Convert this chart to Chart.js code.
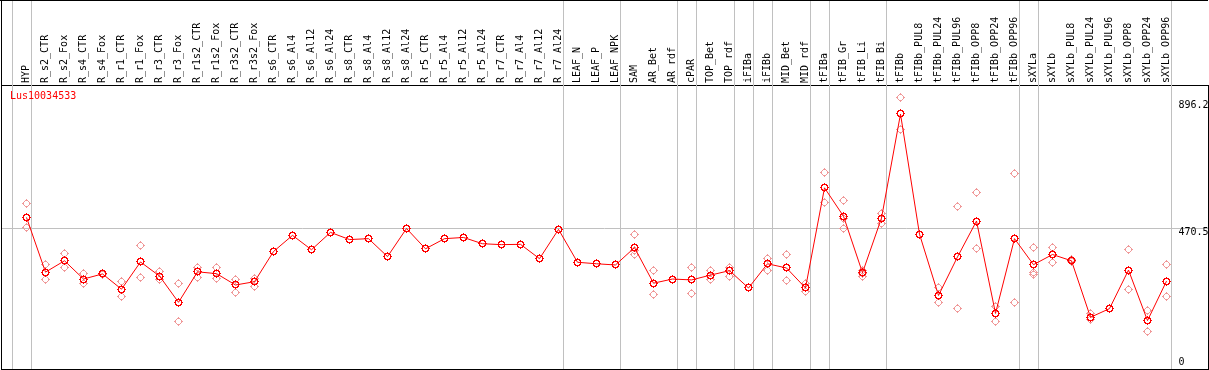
<!DOCTYPE html>
<html>
<head>
<meta charset="utf-8">
<script src="https://cdn.jsdelivr.net/npm/chart.js@4"></script>
<style>
  html, body { margin: 0; padding: 0; background: #fff; }
  #wrap { width: 1209px; height: 370px; }
</style>
</head>
<body>
<div id="wrap"><canvas id="chart" width="1209" height="370"></canvas></div>
<script>
const geneName = "Lus10034533";

const categories = [
  "HYP", "R_s2_CTR", "R_s2_Fox", "R_s4_CTR", "R_s4_Fox", "R_r1_CTR", "R_r1_Fox",
  "R_r3_CTR", "R_r3_Fox", "R_r1s2_CTR", "R_r1s2_Fox", "R_r3s2_CTR", "R_r3s2_Fox",
  "R_s6_CTR", "R_s6_Al4", "R_s6_Al12", "R_s6_Al24", "R_s8_CTR", "R_s8_Al4", "R_s8_Al12",
  "R_s8_Al24", "R_r5_CTR", "R_r5_Al4", "R_r5_Al12", "R_r5_Al24", "R_r7_CTR", "R_r7_Al4",
  "R_r7_Al12", "R_r7_Al24", "LEAF_N", "LEAF_P", "LEAF_NPK", "SAM", "AR_Bet", "AR_rdf",
  "cPAR", "TOP_Bet", "TOP_rdf", "iFIBa", "iFIBb", "MID_Bet", "MID_rdf", "tFIBa",
  "tFIB_Gr", "tFIB_Li", "tFIB_Bi", "tFIBb", "tFIBb_PUL8", "tFIBb_PUL24", "tFIBb_PUL96",
  "tFIBb_OPP8", "tFIBb_OPP24", "tFIBb_OPP96", "sXYLa", "sXYLb", "sXYLb_PUL8",
  "sXYLb_PUL24", "sXYLb_PUL96", "sXYLb_OPP8", "sXYLb_OPP24", "sXYLb_OPP96"
];

// mean expression per sample (the joined red line)
const means = [
  507, 324, 362, 301, 318, 267, 358, 311, 223, 325, 319, 281, 292,
  393, 447, 399, 457, 433, 436, 376, 470, 402, 436, 440, 419, 416, 417, 369, 467,
  357, 352, 348, 406, 287, 301, 298, 314, 329, 271, 352, 338, 271,
  606, 511, 322, 505, 853, 451, 246, 375, 495, 186, 436,
  349, 383, 362, 173, 202, 331, 162, 294
];

// replicates (pale circles); null where no replicate shows
const repHigh = [
  555, 349, 387, 319, 320, 294, 413, 325, 287, 340, 338, 301, 303,
  null, null, null, null, null, null, null, null, null, null, null, null, null, null, null, null,
  null, null, null, 451, 329, null, 339, 328, 341, null, 371, 382, 286,
  657, 563, 331, 521, 908, null, 272, 545, 589, 210, 653,
  407, 407, 367, 186, null, 399, 197, 348
];
const repLow = [
  472, 298, 339, 286, 316, 242, 306, 301, 158, 306, 303, 255, 275,
  null, null, null, null, null, null, null, null, null, null, null, null, null, null, null, null,
  null, null, null, 382, 250, null, 253, 301, 310, null, 330, 296, 260,
  558, 470, 309, 487, 800, null, 223, 201, 402, 159, 224,
  323, 356, 358, 164, null, 265, 125, 243
];
const repExtra = [
  null, null, null, null, null, null, null, null, null, null, null, null, null,
  null, null, null, null, null, null, null, null, null, null, null, null, null, null, null, null,
  null, null, null, 398, null, null, null, null, null, null, null, null, null,
  null, 504, 320, null, null, null, null, null, null, null, null,
  315, null, null, null, null, null, null, null
];

const yTicks = [0, 470.5, 896.2];
const yGridValues = [470.5];
const yMax = 950;
// index of the last sample in each group (-1 = before the first one)
const groupEnds = [-1, 0, 28, 31, 34, 35, 37, 38, 39, 41, 42, 45, 52, 53, 60];

const monoFont = "'DejaVu Sans Mono', 'Liberation Mono', monospace";

// little pixel rings with tick stubs, like the original bitmap markers
const thinRing = [
  "....#....",
  "...###...",
  "..#...#..",
  ".#.....#.",
  "##.....##",
  ".#.....#.",
  "..#...#..",
  "...###...",
  "....#....",
];
const boldRing = [
  "....#....",
  "..#####..",
  ".##...##.",
  ".#.....#.",
  "##.....##",
  ".#.....#.",
  ".##...##.",
  "..#####..",
  "....#....",
];

function makeMarker(pattern, color) {
  const c = document.createElement("canvas");
  c.width = pattern[0].length;
  c.height = pattern.length;
  const g = c.getContext("2d");
  g.fillStyle = color;
  pattern.forEach((row, y) => {
    [...row].forEach((ch, x) => { if (ch === "#") g.fillRect(x, y, 1, 1); });
  });
  return c;
}

const meanMarker = makeMarker(boldRing, "#ff0000");
const repMarker = makeMarker(thinRing, "#f09a9a");

const toPoints = arr => arr.map((v, i) => ({ x: i, y: v })).filter(p => p.y !== null);

const decor = {
  id: "decor",
  beforeDatasetsDraw(chart) {
    const { ctx, chartArea, scales } = chart;
    ctx.imageSmoothingEnabled = false;
    ctx.save();
    ctx.strokeStyle = "#c0c0c0";
    ctx.lineWidth = 1;
    for (const g of groupEnds) {
      const x = Math.round(scales.x.getPixelForValue(g + 0.23)) + 0.5;
      ctx.beginPath();
      ctx.moveTo(x, 0);
      ctx.lineTo(x, chartArea.bottom);
      ctx.stroke();
    }
    ctx.restore();
  },
  afterDraw(chart) {
    const { ctx, chartArea, scales } = chart;
    ctx.save();
    ctx.strokeStyle = "#000";
    ctx.lineWidth = 1;
    ctx.beginPath();
    ctx.moveTo(0, 0.5); ctx.lineTo(chartArea.right, 0.5);
    ctx.moveTo(1.5, 0); ctx.lineTo(1.5, 370);
    ctx.moveTo(1, chartArea.bottom + 0.5); ctx.lineTo(chartArea.right + 1, chartArea.bottom + 0.5);
    ctx.stroke();

    ctx.font = "10px " + monoFont;
    ctx.fillStyle = "#ff0000";
    ctx.textAlign = "left";
    ctx.textBaseline = "middle";
    ctx.fillText(geneName, 10, 96);

    ctx.fillStyle = "#000";
    for (const v of yTicks) {
      const y = Math.min(scales.y.getPixelForValue(v) + 4.5, chartArea.bottom - 7);
      ctx.fillText(String(v), 1178.5, y);
    }
    ctx.restore();
  }
};

new Chart(document.getElementById("chart"), {
  type: "line",
  data: {
    datasets: [
      {
        label: "mean",
        data: toPoints(means),
        borderColor: "#ff0000",
        borderWidth: 1,
        pointStyle: meanMarker,
        pointRadius: 4,
        tension: 0,
        order: 0,
      },
      {
        label: "rep1",
        data: toPoints(repHigh),
        showLine: false,
        pointStyle: repMarker,
        pointRadius: 4,
        order: 1,
      },
      {
        label: "rep2",
        data: toPoints(repLow),
        showLine: false,
        pointStyle: repMarker,
        pointRadius: 4,
        order: 2,
      },
      {
        label: "rep3",
        data: toPoints(repExtra),
        showLine: false,
        pointStyle: repMarker,
        pointRadius: 4,
        order: 3,
      },
    ],
  },
  options: {
    responsive: false,
    animation: false,
    devicePixelRatio: 1,
    layout: { autoPadding: false, padding: { left: 1, right: 1, top: 1, bottom: 1 } },
    plugins: { legend: { display: false }, tooltip: { enabled: false } },
    scales: {
      x: {
        type: "linear",
        position: "top",
        min: -25.5 / 19,
        max: -25.5 / 19 + 1207 / 19,
        afterBuildTicks: s => { s.ticks = categories.map((_, i) => ({ value: i })); },
        afterFit: s => { s.height = 84; s.paddingLeft = 0; s.paddingRight = 0; },
        ticks: {
          autoSkip: false,
          minRotation: 90,
          maxRotation: 90,
          padding: 2,
          labelOffset: 12,
          color: "#000",
          font: { family: monoFont, size: 10 },
          callback: v => categories[v],
        },
        grid: { display: false, drawTicks: false },
        border: { display: true, color: "#000", width: 1 },
      },
      y: {
        type: "linear",
        position: "right",
        min: 0,
        max: yMax,
        afterBuildTicks: s => { s.ticks = yTicks.map(v => ({ value: v })); },
        afterFit: s => { s.width = 0; s.paddingTop = 0; s.paddingBottom = 0; },
        ticks: { display: false },
        grid: {
          drawTicks: false,
          color: c => (c.tick && yGridValues.includes(c.tick.value)) ? "#c0c0c0" : "rgba(0,0,0,0)",
        },
        border: { display: true, color: "#000", width: 1 },
      },
    },
  },
  plugins: [decor],
});
</script>
</body>
</html>
